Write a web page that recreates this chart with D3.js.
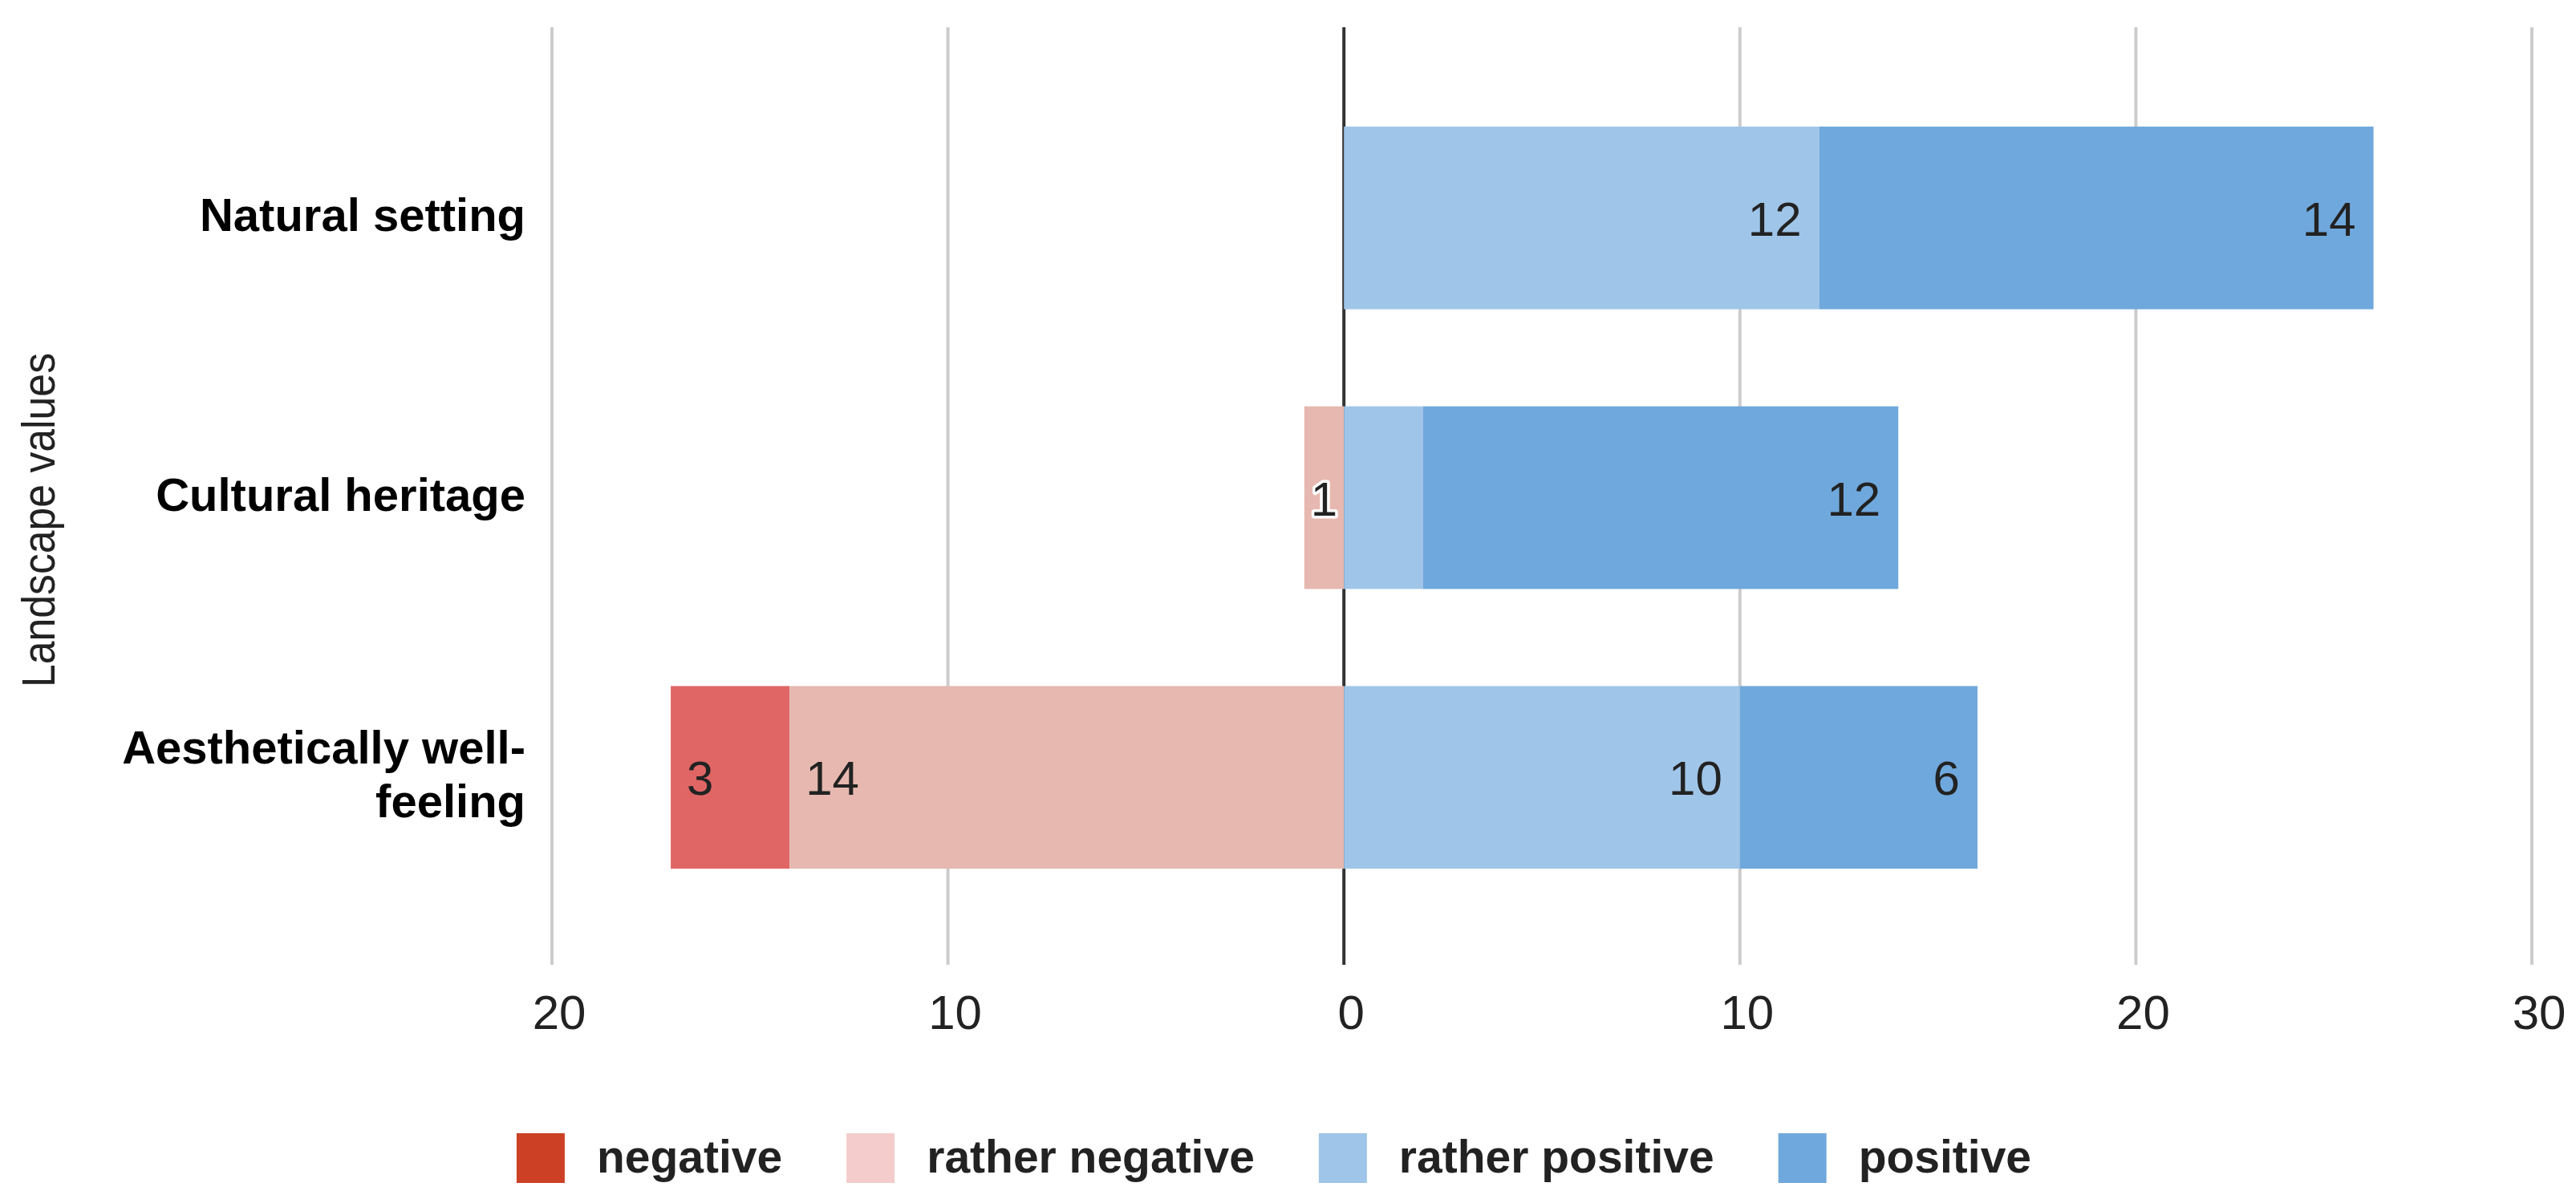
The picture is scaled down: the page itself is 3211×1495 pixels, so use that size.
<!DOCTYPE html>
<html>
<head>
<meta charset="utf-8">
<style>
  body { margin: 0; background: #fff; }
  text { font-family: "Liberation Sans", Arial, sans-serif; }
</style>
</head>
<body>
<div id="chart"></div>
<script src="https://d3js.org/d3.v7.min.js"></script>
<script>
    const categories = ["Natural setting", "Cultural heritage", "Aesthetically well-feeling"];
    const seriesNames = ["negative", "rather negative", "rather positive", "positive"];
    const negative = [0, 0, 3];
    const ratherNegative = [0, 1, 14];
    const ratherPositive = [12, 2, 10];
    const positive = [14, 12, 6];
    const xTicks = [-20, -10, 0, 10, 20, 30];
    const xTickLabels = ["20", "10", "0", "10", "20", "30"];
    // labels Google hid in the original
    const hiddenLabels = [["Cultural heritage", "rather positive"]];

    const barColors = ["#e06666", "#e6b8af", "#9fc5e8", "#6fa8dc"];
    const legendColors = ["#cc4125", "#f4cccc", "#9fc5e8", "#6fa8dc"];

    const width = 3211, height = 1495;
    const plot = { left: 688, right: 3156, top: 34, bottom: 1203 };

    const rows = categories.map((c, i) => ({
        category: c,
        "negative": -negative[i],
        "rather negative": -ratherNegative[i],
        "rather positive": ratherPositive[i],
        "positive": positive[i],
    }));

    const stack = d3.stack()
        .keys(seriesNames)
        .order(() => [1, 0, 2, 3])
        .offset(d3.stackOffsetDiverging);
    const series = stack(rows);

    const x = d3.scaleLinear().domain([-20, 30]).range([plot.left, plot.right]);
    const y = d3.scaleBand().domain(categories)
        .range([plot.top, plot.bottom + 4])
        .paddingInner(0.347)
        .paddingOuter(0.355);

    const svg = d3.select("#chart").append("svg")
        .attr("width", width)
        .attr("height", height);

    svg.append("rect").attr("width", width).attr("height", height).attr("fill", "#fff");

    // gridlines
    svg.append("g")
        .selectAll("line")
        .data(xTicks.filter(d => d !== 0))
        .join("line")
        .attr("x1", d => x(d)).attr("x2", d => x(d))
        .attr("y1", plot.top).attr("y2", plot.bottom)
        .attr("stroke", "#cccccc")
        .attr("stroke-width", 4);

    // zero baseline
    svg.append("line")
        .attr("x1", x(0)).attr("x2", x(0))
        .attr("y1", plot.top).attr("y2", plot.bottom)
        .attr("stroke", "#333333")
        .attr("stroke-width", 4);

    // tick labels
    svg.append("g")
        .selectAll("text")
        .data(xTicks)
        .join("text")
        .attr("x", d => x(d) + 9)
        .attr("y", 1283)
        .attr("text-anchor", "middle")
        .attr("font-size", 60)
        .attr("fill", "#222")
        .text((d, i) => xTickLabels[i]);

    // bars
    const groups = svg.append("g")
        .selectAll("g")
        .data(series)
        .join("g")
        .attr("fill", (d, i) => barColors[i]);

    groups.selectAll("rect")
        .data(d => d.map(s => ({ key: d.key, cat: s.data.category, x0: s[0], x1: s[1] })))
        .join("rect")
        .attr("x", d => x(Math.min(d.x0, d.x1)))
        .attr("width", d => Math.abs(x(d.x1) - x(d.x0)))
        .attr("y", d => y(d.cat))
        .attr("height", y.bandwidth());

    // value labels
    const labelData = series.flatMap(s => s.map(v => ({
        key: s.key, cat: v.data.category, x0: v[0], x1: v[1], value: Math.abs(v[1] - v[0])
    }))).filter(d => d.value > 0 && !hiddenLabels.some(h => h[0] === d.cat && h[1] === d.key));

    const vLabels = svg.append("g")
        .selectAll("text")
        .data(labelData)
        .join("text")
        .attr("y", d => y(d.cat) + y.bandwidth() / 2 + 22)
        .attr("font-size", 60)
        .attr("fill", "#222")
        .text(d => d.value);

    vLabels.each(function(d) {
        const t = d3.select(this);
        const w = this.getComputedTextLength();
        const left = x(Math.min(d.x0, d.x1)), right = x(Math.max(d.x0, d.x1));
        if (w + 40 > right - left) {
            t.attr("x", (left + right) / 2).attr("text-anchor", "middle")
                .attr("stroke", "#fff").attr("stroke-width", 7)
                .attr("stroke-linejoin", "round").attr("paint-order", "stroke");
        } else if (d.x1 <= 0) {
            t.attr("x", left + 20).attr("text-anchor", "start");
        } else {
            t.attr("x", right - 22).attr("text-anchor", "end");
        }
    });

    // category labels
    const catLabels = svg.append("g")
        .selectAll("text")
        .data(categories)
        .join("text")
        .attr("text-anchor", "end")
        .attr("font-size", 58)
        .attr("font-weight", "bold")
        .attr("fill", "#000");

    catLabels.each(function(d) {
        const t = d3.select(this);
        // wrap after hyphen/space when too wide
        const parts = d.split(/(?<=[- ])/);
        const lines = [];
        let cur = "";
        for (const p of parts) {
            t.text(cur + p);
            if (cur && this.getComputedTextLength() > 600) {
                lines.push(cur.trim());
                cur = p;
            } else {
                cur += p;
            }
        }
        lines.push(cur.trim());
        t.text(null);
        const cy = y(d) + y.bandwidth() / 2 + 16;
        const lh = 67;
        lines.forEach((ln, i) => {
            t.append("tspan")
                .attr("x", 655)
                .attr("y", cy + (i - (lines.length - 1) / 2) * lh)
                .text(ln);
        });
    });

    // y axis title
    svg.append("text")
        .attr("transform", `translate(68, ${(plot.top + plot.bottom) / 2 + 30}) rotate(-90)`)
        .attr("text-anchor", "middle")
        .attr("font-size", 58)
        .attr("fill", "#222")
        .attr("textLength", 417)
        .attr("lengthAdjust", "spacingAndGlyphs")
        .text("Landscape values");

    // legend
    const legend = svg.append("g");
    const items = legend.selectAll("g")
        .data(seriesNames)
        .join("g");
    items.append("rect")
        .attr("width", 60).attr("height", 62)
        .attr("y", 1413)
        .attr("fill", (d, i) => legendColors[i]);
    items.append("text")
        .attr("x", 100)
        .attr("y", 1462)
        .attr("font-size", 57)
        .attr("font-weight", "bold")
        .attr("fill", "#222")
        .text(d => d);

    let offsets = [], cx = 0;
    items.each(function(d, i) {
        const w = d3.select(this).select("text").node().getComputedTextLength();
        offsets.push(cx);
        cx += 100 + w + 80;
    });
    const total = cx - 80;
    const startX = 1588 - total / 2;
    items.attr("transform", (d, i) => `translate(${startX + offsets[i]}, 0)`);
</script>
</body>
</html>
